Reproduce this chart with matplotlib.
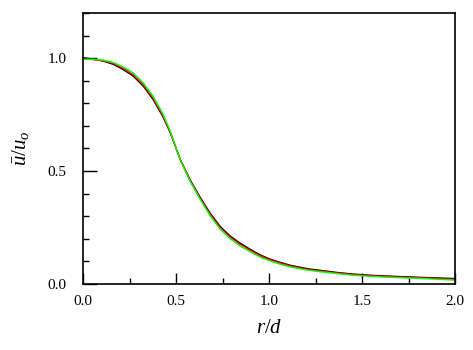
import numpy as np
import matplotlib
matplotlib.use("Agg")
import matplotlib.pyplot as plt
from matplotlib.ticker import MultipleLocator

plt.rcParams["font.family"] = ["Liberation Serif", "DejaVu Serif"]
plt.rcParams["mathtext.fontset"] = "custom"
plt.rcParams["mathtext.rm"] = "Liberation Serif"
plt.rcParams["mathtext.it"] = "Liberation Serif:italic"

# radial position r/d
r = [0.0, 0.05, 0.108, 0.161, 0.215, 0.269, 0.323, 0.376, 0.43, 0.468, 0.522,
     0.575, 0.629, 0.683, 0.737, 0.79, 0.844, 0.898, 0.952, 1.006, 1.059,
     1.113, 1.167, 1.22, 1.3, 1.366, 1.45, 1.56, 1.7, 1.83, 2.0]
# mean velocity profiles u/u_o
u_black = [1.002, 0.996, 0.987, 0.973, 0.950, 0.921, 0.877, 0.818, 0.740, 0.672, 0.553,
           0.462, 0.385, 0.314, 0.255, 0.213, 0.181, 0.154, 0.129, 0.110, 0.096,
           0.083, 0.074, 0.066, 0.058, 0.051, 0.044, 0.038, 0.033, 0.029, 0.024]
u_red = [0.995, 0.994, 0.989, 0.977, 0.955, 0.927, 0.883, 0.824, 0.745, 0.675, 0.552,
         0.459, 0.381, 0.309, 0.250, 0.208, 0.176, 0.150, 0.125, 0.107, 0.093,
         0.080, 0.071, 0.063, 0.055, 0.049, 0.042, 0.036, 0.031, 0.027, 0.021]
u_green = [0.995, 0.995, 0.991, 0.981, 0.961, 0.935, 0.891, 0.832, 0.752, 0.678, 0.551,
           0.456, 0.376, 0.303, 0.243, 0.201, 0.169, 0.143, 0.119, 0.102, 0.088,
           0.076, 0.067, 0.060, 0.052, 0.046, 0.039, 0.033, 0.028, 0.024, 0.017]

fig = plt.figure(figsize=(4.73, 3.5), dpi=100)
ax = fig.add_axes([0.1755, 0.1886, 0.7865, 0.7744])

ax.plot(r, u_black, color="black", lw=1.0)
ax.plot(r, u_red, color="red", lw=1.0)
ax.plot(r, u_green, color="#00ff00", lw=1.0)

ax.set_xlim(0, 2.0)
ax.set_ylim(0, 1.2)
ax.xaxis.set_minor_locator(MultipleLocator(0.25))
ax.yaxis.set_minor_locator(MultipleLocator(0.1))
ax.set_xticks([0.0, 0.5, 1.0, 1.5, 2.0])
ax.set_xticklabels(["0.0", "0.5", "1.0", "1.5", "2.0"])
ax.set_yticks([0.0, 0.5, 1.0])
ax.set_yticklabels(["0.0", "0.5", "1.0"])

ax.tick_params(which="both", direction="in", top=False, right=False,
               labelsize=11)
ax.tick_params(axis="y", which="major", length=10, width=1, pad=12)
ax.tick_params(axis="x", which="major", length=8, width=1, pad=8)
ax.tick_params(which="minor", length=4, width=1)
for s in ax.spines.values():
    s.set_linewidth(1.2)

ax.set_xlabel(r"$r/d$", fontsize=15, labelpad=8)
ax.set_ylabel(r"$\bar{u}/u_o$", fontsize=15, labelpad=12)

fig.savefig("out.png", dpi=100)
